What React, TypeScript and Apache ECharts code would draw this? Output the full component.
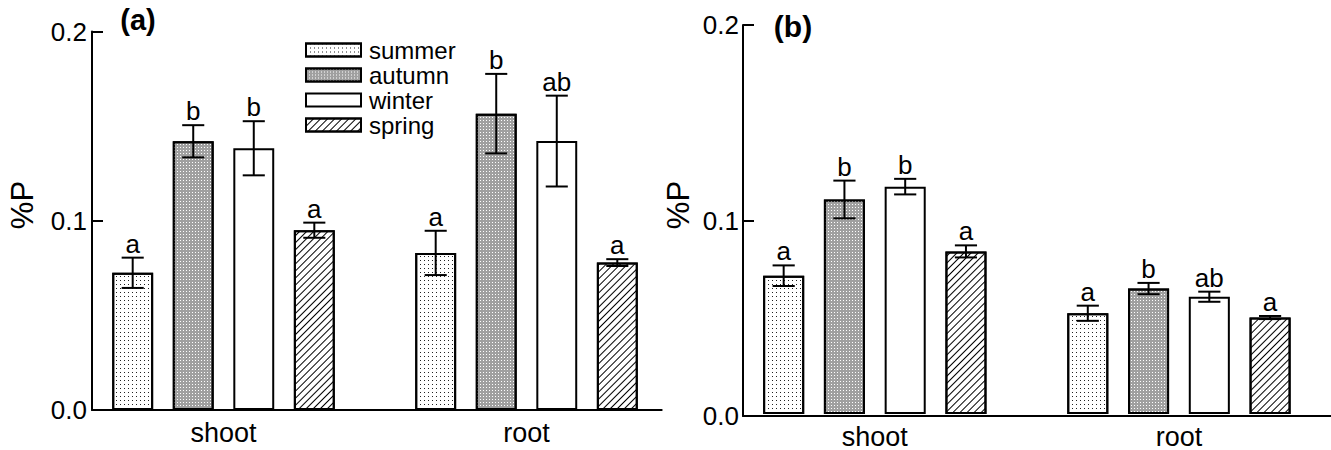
import React, { useEffect, useRef } from "react";
import * as echarts from "echarts";

const FONT = "'Liberation Sans', Arial, Helvetica, sans-serif";

const categories = ["shoot", "root"];
const seasons = ["summer", "autumn", "winter", "spring"];

// Panel (a): mean %P per season, [shoot, root]
const summerA = [0.0725, 0.083];
const autumnA = [0.142, 0.1566];
const winterA = [0.1383, 0.1421];
const springA = [0.095, 0.0779];
// Panel (a): error (half-length of bar)
const summerErrA = [0.008, 0.0117];
const autumnErrA = [0.0085, 0.021];
const winterErrA = [0.0143, 0.024];
const springErrA = [0.004, 0.0018];
// Panel (a): significance letters
const summerLetA = ["a", "a"];
const autumnLetA = ["b", "b"];
const winterLetA = ["b", "ab"];
const springLetA = ["a", "a"];

// Panel (b)
const summerB = [0.0711, 0.0518];
const autumnB = [0.1103, 0.0645];
const winterB = [0.1169, 0.0603];
const springB = [0.0836, 0.0496];
const summerErrB = [0.0053, 0.0039];
const autumnErrB = [0.0097, 0.0029];
const winterErrB = [0.004, 0.0026];
const springErrB = [0.0031, 0.0008];
const summerLetB = ["a", "a"];
const autumnLetB = ["b", "b"];
const winterLetB = ["b", "ab"];
const springLetB = ["a", "a"];

const yTicks = [0, 0.1, 0.2];

const BAR_FRAC = 0.135;
const GAP_FRAC = 0.48;

const fills: any = { summer: "#fff", autumn: "#a0a0a0", winter: "#fff", spring: "#fff" };

const decals: any = {
  summer: {
    symbol: "rect",
    symbolSize: 1,
    dashArrayX: [1, 3],
    dashArrayY: [1, 3],
    color: "#222",
    backgroundColor: "#fff",
  },
  autumn: {
    symbol: "rect",
    symbolSize: 1,
    dashArrayX: [1, 2],
    dashArrayY: [1, 2],
    color: "#fff",
    backgroundColor: "#7a7a7a",
  },
  winter: null,
  spring: {
    symbol: "rect",
    symbolSize: 1,
    dashArrayX: [1, 0],
    dashArrayY: [1, 4],
    rotation: -Math.PI / 4,
    color: "#000",
    backgroundColor: "#fff",
  },
};

function buildPanel(
  means: number[][],
  errs: number[][],
  letters: string[][],
  gridBar: number
) {
  const series: any[] = [];
  seasons.forEach((s, si) => {
    const item: any = {
      color: fills[s],
      borderColor: "#000",
      borderWidth: 2,
    };
    if (decals[s]) item.decal = decals[s];
    series.push({
      type: "bar",
      name: s,
      xAxisIndex: gridBar,
      yAxisIndex: gridBar,
      data: means[si],
      barWidth: BAR_FRAC * 100 + "%",
      barGap: GAP_FRAC * 100 + "%",
      itemStyle: item,
      emphasis: { disabled: true },
      z: 2,
    });
  });
  const errData: any[] = [];
  seasons.forEach((s, si) => {
    categories.forEach((c, ci) => {
      errData.push([ci, si, means[si][ci], errs[si][ci]]);
    });
  });
  series.push({
    type: "custom",
    name: "err" + gridBar,
    xAxisIndex: gridBar,
    yAxisIndex: gridBar,
    clip: false,
    z: 5,
    data: errData,
    encode: { x: 0, y: 2 },
    renderItem: (params: any, api: any) => {
      const ci = api.value(0);
      const si = api.value(1);
      const mean = api.value(2);
      const err = api.value(3);
      const band = api.size([1, 0])[0];
      const barW = band * BAR_FRAC;
      const pitch = barW * (1 + GAP_FRAC);
      const c = api.coord([ci, mean]);
      const x = c[0] + (si - 1.5) * pitch;
      const yTop = api.coord([ci, mean + err])[1];
      const yBot = api.coord([ci, mean - err])[1];
      const half = barW * 0.27;
      const ls = { stroke: "#000", lineWidth: 2 };
      return {
        type: "group",
        children: [
          { type: "line", shape: { x1: x, y1: yTop, x2: x, y2: yBot }, style: ls },
          { type: "line", shape: { x1: x - half, y1: yTop, x2: x + half, y2: yTop }, style: ls },
          { type: "line", shape: { x1: x - half, y1: yBot, x2: x + half, y2: yBot }, style: ls },
          {
            type: "text",
            style: {
              text: letters[si][ci],
              x: x,
              y: yTop - 1,
              textAlign: "center",
              textVerticalAlign: "bottom",
              font: `26px ${FONT}`,
              fill: "#000",
            },
          },
        ],
      };
    },
  });
  return series;
}

export default function App() {
  const ref = useRef<HTMLDivElement>(null);
  useEffect(() => {
    if (!ref.current) return;
    const chart = echarts.init(ref.current, null, { renderer: "svg" });

    const grids = [
      { left: 72, top: 31.5, width: 606, height: 378.5 },
      { left: 92, top: 31.5, width: 569.7, height: 378.5 },
      { left: 722.75, top: 25, width: 623, height: 391 },
      { left: 743, top: 25, width: 600, height: 391 },
    ];

    const catAxis = (gi: number) => ({
      type: "category",
      gridIndex: gi,
      data: categories,
      axisLine: { show: false },
      axisTick: { show: false },
      axisLabel: { color: "#000", fontSize: 27, fontFamily: FONT, margin: 9 },
      splitLine: { show: false },
    });
    const lineXAxis = (gi: number) => ({
      type: "value",
      gridIndex: gi,
      min: 0,
      max: 1,
      axisLine: { show: true, lineStyle: { color: "#000", width: 2 } },
      axisTick: { show: false },
      axisLabel: { show: false },
      splitLine: { show: false },
    });
    const hiddenY = (gi: number) => ({
      type: "value",
      gridIndex: gi,
      min: yTicks[0],
      max: yTicks[yTicks.length - 1],
      show: false,
    });
    const shownY = (gi: number, margin: number) => ({
      type: "value",
      gridIndex: gi,
      min: yTicks[0],
      max: yTicks[yTicks.length - 1],
      interval: yTicks[1] - yTicks[0],
      axisLine: { show: true, lineStyle: { color: "#000", width: 2 } },
      axisTick: { show: true, inside: true, length: 11, lineStyle: { color: "#000", width: 2 } },
      axisLabel: {
        color: "#000",
        fontSize: 26,
        fontFamily: FONT,
        margin,
        formatter: (v: number) => v.toFixed(1),
      },
      splitLine: { show: false },
    });

    const seriesA = buildPanel(
      [summerA, autumnA, winterA, springA],
      [summerErrA, autumnErrA, winterErrA, springErrA],
      [summerLetA, autumnLetA, winterLetA, springLetA],
      0
    );
    const seriesB = buildPanel(
      [summerB, autumnB, winterB, springB],
      [summerErrB, autumnErrB, winterErrB, springErrB],
      [summerLetB, autumnLetB, winterLetB, springLetB],
      2
    );

    chart.setOption({
      animation: false,
      backgroundColor: "#fff",
      grid: grids,
      xAxis: [catAxis(0), lineXAxis(1), catAxis(2), lineXAxis(3)],
      yAxis: [hiddenY(0), shownY(1, 5), hiddenY(2), shownY(3, 4)],
      legend: {
        data: seasons,
        orient: "vertical",
        left: 300,
        top: 33,
        itemWidth: 55,
        itemHeight: 13,
        itemGap: 1,
        icon: "rect",
        selectedMode: false,
        textStyle: {
          color: "#000",
          fontSize: 24,
          fontFamily: FONT,
          padding: [0, 0, 0, 3],
        },
      },
      graphic: [
        {
          type: "text",
          x: 138,
          y: 20,
          style: {
            text: "(a)",
            font: `bold 29px ${FONT}`,
            fill: "#000",
            textAlign: "center",
            textVerticalAlign: "middle",
          },
        },
        {
          type: "text",
          x: 793,
          y: 26,
          style: {
            text: "(b)",
            font: `bold 30px ${FONT}`,
            fill: "#000",
            textAlign: "center",
            textVerticalAlign: "middle",
          },
        },
        {
          type: "text",
          x: 22,
          y: 205,
          rotation: Math.PI / 2,
          style: {
            text: "%P",
            font: `31px ${FONT}`,
            fill: "#000",
            textAlign: "center",
            textVerticalAlign: "middle",
          },
        },
        {
          type: "text",
          x: 678,
          y: 205,
          rotation: Math.PI / 2,
          style: {
            text: "%P",
            font: `31px ${FONT}`,
            fill: "#000",
            textAlign: "center",
            textVerticalAlign: "middle",
          },
        },
      ],
      series: [...seriesA, ...seriesB],
    });
    return () => chart.dispose();
  }, []);
  return (
    <div
      ref={ref}
      style={{ position: "fixed", left: 0, top: 0, width: 1331, height: 450, background: "#fff" }}
    />
  );
}
